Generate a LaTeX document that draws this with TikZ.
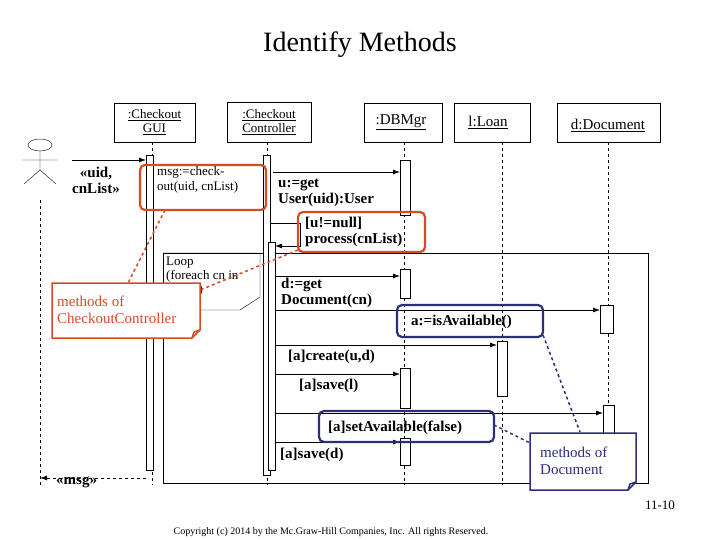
\documentclass[tikz,border=0pt]{standalone}
\usepackage{fontspec}
\setmainfont{Liberation Serif}
\usetikzlibrary{arrows.meta}
\definecolor{rd}{RGB}{215,75,35}
\definecolor{bl}{RGB}{45,45,125}
\begin{document}
\begin{tikzpicture}[x=1pt,y=-1pt,
  obj/.style={draw,thick,fill=white,inner sep=0pt,align=center,font=\fontsize{13}{14}\selectfont},
  life/.style={dashed},
  act/.style={draw,fill=white},
  msg/.style={-{Latex[length=7pt,width=5pt]},thick},
  lbl/.style={font=\fontsize{15}{16}\selectfont\bfseries,align=left,inner sep=0pt},
  rbox/.style={draw=rd,line width=2.2pt,rounded corners=5pt},
  bbox/.style={draw=bl,line width=2.2pt,rounded corners=5pt}]
\useasboundingbox (0,0) rectangle (720,540);
\node[font=\fontsize{28}{30}\selectfont] (title) at (360,45) {Identify Methods};
% lifelines
\draw[life] (40,200) -- (40,485);
\draw[life] (152,142) -- (152,485);
\draw[life] (267,142) -- (267,485);
\draw[life] (404,142) -- (404,485);
\draw[life] (502,142) -- (502,485);
\draw[life] (608,142) -- (608,485);
% objects
\node[obj,minimum width=81pt,minimum height=39pt] (gui) at (154.5,122.5) {\underline{:Checkout}\\\underline{GUI}};
\node[obj,minimum width=84pt,minimum height=40pt] (ctl) at (269,122) {\underline{:Checkout}\\\underline{Controller}};
\node[obj,draw=none,fill=none,font=\fontsize{15}{16}\selectfont] (db) at (401,122) {\underline{:DBMgr}};
\node[obj,draw=none,fill=none,font=\fontsize{15}{16}\selectfont] (loan) at (488,122) {\underline{l:Loan}};
\node[obj,draw=none,fill=none,font=\fontsize{15}{16}\selectfont] (doc) at (608,125) {\underline{d:Document}};
\draw[thick] (364,103) rectangle (442,142);
\draw[thick] (454,103) rectangle (530,142);
\draw[thick] (557,103) rectangle (660,142);
% actor
\draw (40,145) ellipse (12 and 6);
\draw (40,151) -- (40,170) (22,160) -- (58,160) (40,170) -- (24,184) (40,170) -- (56,184);
\coordinate (actor) at (40,478);
% loop frame
\draw (163,253) rectangle (648,483);
\draw (163,253) -- (260,253) -- (260,297) -- (240,310) -- (163,310);
\node[font=\fontsize{13}{14}\selectfont,align=left,anchor=north west,inner sep=0pt] (loop) at (166,257) {Loop\\(foreach cn in\\cnList)};
% activations
\draw[act] (146,155) rectangle (153,470);
\draw[act] (263,155) rectangle (270,475);
\draw[act] (268,242) rectangle (275,470);
\draw[act] (400,160) rectangle (410,215);
\draw[act] (400,269) rectangle (410,298);
\draw[act] (400,368) rectangle (410,408);
\draw[act] (400,438) rectangle (410,465);
\draw[act] (497,341) rectangle (507,396);
\draw[act] (600,305) rectangle (613,333);
\draw[act] (603,405) rectangle (614,440);
% message endpoints
\coordinate (a1) at (72,160); \coordinate (g1) at (146,160);
\coordinate (c1) at (273,172); \coordinate (d1) at (400,172);
\coordinate (c2) at (270,223); \coordinate (s1) at (300,223); \coordinate (s2) at (300,246); \coordinate (c3) at (275,246);
\coordinate (c4) at (275,276); \coordinate (d4) at (400,276);
\coordinate (c5) at (275,310); \coordinate (o5) at (600,310);
\coordinate (c6) at (275,345); \coordinate (l6) at (497,345);
\coordinate (c7) at (275,374); \coordinate (d7) at (400,374);
\coordinate (c8) at (275,413); \coordinate (o8) at (603,413);
\coordinate (c9) at (275,442); \coordinate (d9) at (400,442);
\coordinate (g2) at (146,478);
\draw[msg] (a1) -- (g1);
\draw[msg] (c1) -- (d1);
\draw[msg] (c2) -- (s1) -- (s2) -- (c3);
\draw[msg] (c4) -- (d4);
\draw[msg] (c5) -- (o5);
\draw[msg] (c6) -- (l6);
\draw[msg] (c7) -- (d7);
\draw[msg] (c8) -- (o8);
\draw[msg] (c9) -- (d9);
\draw[msg,dashed] (g2) -- (actor);
% labels
\node[lbl,align=center] (m0) at (96,180) {<<uid,\\cnList>>};
\node[lbl,font=\fontsize{13}{15}\selectfont,anchor=west] (m1) at (157,180) {msg:=check-\\out(uid, cnList)};
\node[lbl,anchor=west] (m2) at (278,193) {u:=get\\User(uid):User};
\node[lbl,anchor=west] (m3) at (305,232) {[u!=null]\\process(cnList)};
\node[lbl,anchor=west] (m4) at (281,293) {d:=get\\Document(cn)};
\node[lbl,anchor=west] (m5) at (411,322) {a:=isAvailable()};
\node[lbl,anchor=west] (m6) at (288,357) {[a]create(u,d)};
\node[lbl,anchor=west] (m7) at (299,386) {[a]save(l)};
\node[lbl,anchor=west] (m8) at (328,428) {[a]setAvailable(false)};
\node[lbl,anchor=west] (m9) at (280,455) {[a]save(d)};
\node[lbl,anchor=west] (m10) at (56,482) {<<msg>>};
% highlight boxes
\draw[rbox] (140,165) rectangle (266,210);
\draw[rbox] (298,212) rectangle (425,252);
\draw[bbox] (397,305) rectangle (543,337);
\draw[bbox] (319,411) rectangle (494,442);
% notes
\draw[rd,dashed,line width=1.5pt] (165,210) -- (128,283);
\draw[rd,dashed,line width=1.5pt] (298,250) -- (200,290);
\draw[rd,line width=1.5pt,fill=white] (52,283) -- (200,283) -- (200,330) -- (192,338) -- (52,338) -- cycle;
\draw[rd,line width=1.5pt] (192,338) -- (194,332) -- (200,330);
\node[text=rd,font=\fontsize{15}{17}\selectfont,align=left,anchor=west,inner sep=0pt] (n1) at (57,310) {methods of\\CheckoutController};
\draw[bl,dashed,line width=1.5pt] (543,335) -- (580,432);
\draw[bl,dashed,line width=1.5pt] (494,425) -- (530,443);
\draw[bl,line width=1.5pt,fill=white] (530,433) -- (636,433) -- (636,482) -- (628,490) -- (530,490) -- cycle;
\draw[bl,line width=1.5pt] (628,490) -- (630,484) -- (636,482);
\node[text=bl,font=\fontsize{15}{17}\selectfont,align=left,anchor=west,inner sep=0pt] (n2) at (540,461) {methods of\\Document};
% footer
\node[font=\fontsize{13}{14}\selectfont] (pg) at (660,505) {11-10};
\node[font=\fontsize{10}{11}\selectfont] (cp) at (331,532) {Copyright (c) 2014 by the Mc.Graw-Hill Companies, Inc. All rights Reserved.};
\end{tikzpicture}
\end{document}
